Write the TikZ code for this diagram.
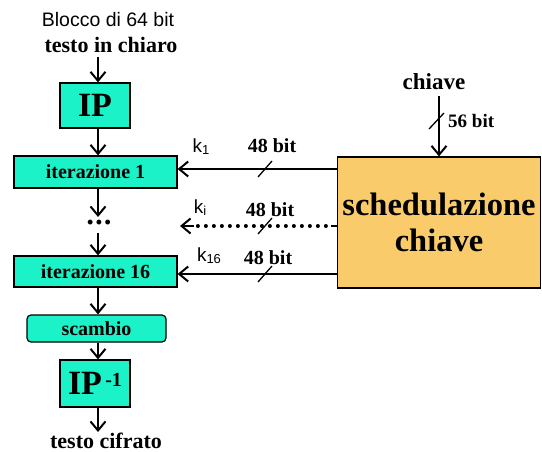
\documentclass[tikz,border=0pt]{standalone}
\usepackage{fontspec}
\setmainfont{Liberation Serif}
\newfontfamily\arial{Liberation Sans}
\usetikzlibrary{arrows.meta,calc}
\definecolor{boxteal}{HTML}{1CF2C8}
\definecolor{boxorange}{HTML}{F9CB6B}
\newcommand{\fs}[1]{\fontsize{#1}{#1}\selectfont}
\tikzset{
  arr/.style={line width=2pt,-{Straight Barb[length=9pt,width=15pt,line width=2pt]}},
  stagebox/.style={draw=black,line width=1.2pt,fill=boxteal,inner sep=0pt,font=\bfseries},
  slashmark/.style={line width=1.3pt},
  lbl/.style={inner sep=0pt,font=\bfseries\fs{20}},
  klbl/.style={inner sep=0pt,font=\arial\fs{19}},
}
\newcommand{\ksub}[1]{k\raisebox{-0.2ex}{\fs{13}#1}}
\begin{document}
\begin{tikzpicture}[x=1pt,y=-1pt]
\useasboundingbox (0,0) rectangle (542,452);
% left column
\coordinate (col) at (98,0);
\node[inner sep=0pt,font=\arial\fs{19.5}] (blocco) at (108,20) {Blocco di 64 bit};
\node[inner sep=0pt,font=\bfseries\fs{22}] (chiaro) at (111,45) {testo in chiaro};
\node[stagebox,minimum width=70pt,minimum height=45pt,font=\bfseries\fs{34}] (ip) at (95,105.5) {IP};
\node[stagebox,minimum width=163pt,minimum height=32pt,font=\bfseries\fs{20}] (it1) at (95.5,172) {iterazione 1};
\node[inner sep=0pt,font=\bfseries\fs{18}] (dots) at (99,224) {•\hspace{2.5pt}•\hspace{2.5pt}•};
\node[stagebox,minimum width=163pt,minimum height=31pt,font=\bfseries\fs{20}] (it16) at (95.5,271.5) {iterazione 16};
\node[stagebox,rounded corners=4pt,minimum width=139pt,minimum height=27pt,font=\bfseries\fs{20}] (scambio) at (96.5,328.5) {scambio};
\node[stagebox,minimum width=70pt,minimum height=47pt,font=\bfseries\fs{34}] (ipinv) at (95,383.5) {IP\raisebox{0.5ex}{\fs{20}\,-1}};
\node[inner sep=0pt,font=\bfseries\fs{22}] (cifrato) at (106,441) {testo cifrato};
\coordinate (dotsin) at (98,217);
\coordinate (dotsout) at (98,233);
\coordinate (outend) at (98,432);
\draw[arr] (chiaro.south -| col) ++(0,4) -- (ip.north -| col);
\draw[arr] (ip.south -| col) -- (it1.north -| col);
\draw[arr] (it1.south -| col) -- (dotsin);
\draw[arr] (dotsout) -- (it16.north -| col);
\draw[arr] (it16.south -| col) -- (scambio.north -| col);
\draw[arr] (scambio.south -| col) -- (ipinv.north -| col);
\draw[arr] (ipinv.south -| col) -- (outend);
% key schedule
\node[draw=black,line width=1.2pt,fill=boxorange,minimum width=203pt,minimum height=131pt,inner sep=0pt,align=center,font=\bfseries\fs{32.5}] (sched) at (439,222.5) {schedulazione\\[3pt]chiave};
\node[inner sep=0pt,font=\bfseries\fs{23}] (chiave) at (434,82) {chiave};
\draw[arr] (chiave.south -| sched.north) ++(0,6) -- (sched.north);
\draw[slashmark] (429,129) -- (444,113);
\node[lbl,anchor=west,font=\bfseries\fs{19}] (b56) at (448,121) {56 bit};
% subkey rows
\coordinate (r1) at (0,169);
\coordinate (ri) at (0,226);
\coordinate (r16) at (0,274);
\coordinate (kiend) at (180,226);
\coordinate (kidots) at (194,226);
\draw[arr] (sched.west |- r1) -- (it1.east |- r1);
\draw[line width=4pt,line cap=round,dash pattern=on 0pt off 8pt] (sched.west |- ri) ++(-11,0) -- (kidots);
\draw[line width=2pt] (sched.west |- ri) -- ++(-6,0);
\draw[arr] (kidots) -- (kiend);
\draw[arr] (sched.west |- r16) -- (it16.east |- r16);
\foreach \r in {r1,ri,r16}{
  \draw[slashmark] ($(265,0 |- \r)+(-7,8)$) -- ($(265,0 |- \r)+(7,-8)$);
}
\node[klbl] (k1) at (201,147) {\ksub{1}};
\node[lbl] (l1) at (272,146) {48 bit};
\node[klbl] (ki) at (200,208) {\ksub{i}};
\node[lbl] (li) at (270,210) {48 bit};
\node[klbl] (k16) at (209,256) {\ksub{16}};
\node[lbl] (l16) at (268,258) {48 bit};
\end{tikzpicture}
\end{document}
